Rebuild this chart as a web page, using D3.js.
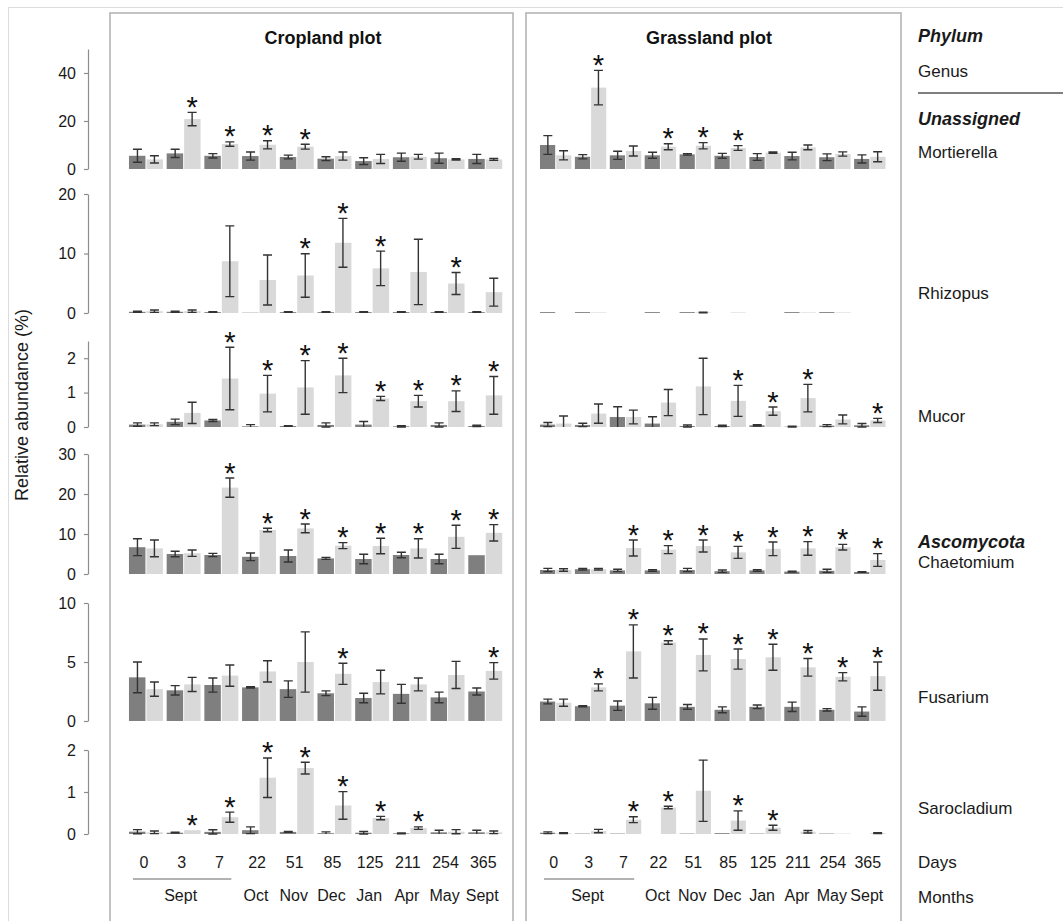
<!DOCTYPE html>
<html><head><meta charset="utf-8">
<script src="https://cdn.jsdelivr.net/npm/d3@7"></script>
<style>
html,body{margin:0;padding:0;background:#fff;}
svg{display:block;font-family:"Liberation Sans",Arial,sans-serif;}
</style></head>
<body>
<svg id="chart" width="1063" height="921"></svg>
<script>
// ---------- DATA ----------
const days = ["0","3","7","22","51","85","125","211","254","365"];
const months = ["Sept","Oct","Nov","Dec","Jan","Apr","May","Sept"];
const monthGroups = [[0,2],[3,3],[4,4],[5,5],[6,6],[7,7],[8,8],[9,9]];
const genera = ["Mortierella","Rhizopus","Mucor","Chaetomium","Fusarium","Sarocladium"];
const phyla = [["Unassigned",0],["Ascomycota",3]];
const yMax = [50,20,2.5,30,10,2];
const yTicks = [[0,20,40],[0,10,20],[0,1,2],[0,10,20,30],[0,5,10],[0,1,2]];

// Cropland plot: dark bars (control) and light bars (treated), with error bars
const cropDark = [
  [5.5,6.5,5.5,5.4,5.0,4.3,3.3,4.9,4.5,4.2],
  [0.2,0.2,0.15,0.05,0.15,0.15,0.15,0.15,0.15,0.15],
  [0.07,0.15,0.19,0.02,0.03,0.06,0.07,0.02,0.06,0.03],
  [6.7,5.0,4.75,4.3,4.5,3.9,3.75,4.75,3.75,4.7],
  [3.7,2.6,3.05,2.85,2.7,2.35,1.95,2.3,2.0,2.5],
  [0.055,0.03,0.05,0.09,0.05,0.02,0.03,0.015,0.04,0.04]
];
const cropDarkErr = [
  [2.7,1.7,0.9,1.7,0.8,0.8,1.4,1.7,2.1,1.9],
  [0.1,0.1,0.05,0,0.05,0.05,0.05,0.05,0.05,0.05],
  [0.05,0.08,0.03,0.05,0.01,0.06,0.09,0.02,0.06,0.02],
  [2.1,0.7,0.4,0.95,1.5,0.25,1.2,0.7,1.2,0],
  [1.3,0.4,0.6,0.05,0.7,0.2,0.4,0.8,0.45,0.3],
  [0.05,0.01,0.05,0.08,0.01,0.03,0.03,0.01,0.05,0.05]
];
const cropLight = [
  [4.0,20.8,10.4,10.1,9.3,5.4,4.2,5.1,4.0,4.0],
  [0.3,0.3,8.7,5.55,6.3,11.8,7.5,6.9,4.95,3.5],
  [0.08,0.41,1.41,0.97,1.15,1.5,0.83,0.75,0.75,0.92],
  [6.4,5.2,21.6,11.0,11.4,7.1,7.0,6.4,9.3,10.3],
  [2.7,3.1,3.85,4.2,5.0,4.0,3.3,3.1,3.9,4.25],
  [0.04,0.09,0.4,1.34,1.57,0.68,0.38,0.14,0.055,0.04]
];
const cropLightErr = [
  [1.5,2.8,0.9,1.7,1.0,1.7,1.9,1.0,0.3,0.4],
  [0.2,0.2,5.95,4.2,3.65,4.1,2.9,5.5,1.85,2.35],
  [0.04,0.31,0.91,0.53,0.78,0.5,0.06,0.17,0.3,0.55],
  [2.1,0.8,2.4,0.45,1.1,0.75,1.95,2.4,2.9,2.05],
  [0.6,0.6,0.9,0.9,2.55,0.9,1.0,0.55,1.15,0.7],
  [0.03,0,0.12,0.47,0.14,0.33,0.04,0.03,0.05,0.03]
];
const cropStars = [
  [0,1,1,1,1,0,0,0,0,0],
  [0,0,0,0,1,1,1,0,1,0],
  [0,0,1,1,1,1,1,1,1,1],
  [0,0,1,1,1,1,1,1,1,1],
  [0,0,0,0,0,1,0,0,0,1],
  [0,1,1,1,1,1,1,1,0,0]
];

// Grassland plot
const grassDark = [
  [10.0,5.1,5.7,5.7,6.1,5.5,5.0,5.4,4.9,4.2],
  [0.15,0.15,0,0.15,0.15,0,0,0.15,0.15,0],
  [0.07,0.06,0.29,0.1,0.03,0.03,0.05,0.01,0.04,0.05],
  [1.0,1.2,0.9,0.9,1.0,0.7,0.9,0.6,0.8,0.5],
  [1.65,1.25,1.3,1.5,1.2,0.95,1.2,1.2,0.95,0.8],
  [0.03,0.01,0.01,0,0.01,0.02,0.01,0,0.01,0]
];
const grassDarkErr = [
  [3.9,0.9,1.7,1.25,0.3,1.0,1.4,1.6,1.4,1.7],
  [0,0,0,0,0,0,0,0,0,0],
  [0.06,0.05,0.3,0.2,0.03,0.02,0.02,0.01,0.03,0.05],
  [0.4,0.2,0.3,0.2,0.4,0.3,0.2,0.1,0.4,0.1],
  [0.2,0.05,0.4,0.5,0.2,0.25,0.15,0.4,0.1,0.4],
  [0.02,0,0,0,0,0,0,0,0,0]
];
const grassLight = [
  [5.7,33.9,7.5,9.3,9.7,8.75,6.8,9.0,6.25,5.1],
  [0,0.1,0,0,0.1,0.1,0,0.1,0.1,0],
  [0.1,0.39,0.29,0.71,1.18,0.76,0.46,0.84,0.22,0.19],
  [1.0,1.2,6.5,6.1,7.0,5.4,6.3,6.4,6.7,3.5],
  [1.55,2.85,5.9,6.65,5.6,5.25,5.4,4.55,3.75,3.8],
  [0.02,0.07,0.34,0.63,1.03,0.32,0.15,0.055,0.01,0.02]
];
const grassLightErr = [
  [1.9,7.2,2.1,1.25,1.3,1.0,0.3,1.0,0.9,2.1],
  [0,0,0,0,0.05,0,0,0,0,0],
  [0.22,0.28,0.2,0.38,0.82,0.45,0.12,0.4,0.13,0.06],
  [0.3,0.2,2.0,1.0,1.5,1.5,1.7,1.7,0.7,1.6],
  [0.3,0.3,2.25,0.15,1.35,0.85,1.1,0.75,0.35,1.2],
  [0.01,0.04,0.07,0.03,0.73,0.23,0.06,0.03,0,0.01]
];
const grassStars = [
  [0,1,0,1,1,1,0,0,0,0],
  [0,0,0,0,0,0,0,0,0,0],
  [0,0,0,0,0,1,1,1,0,1],
  [0,0,1,1,1,1,1,1,1,1],
  [0,1,1,1,1,1,1,1,1,1],
  [0,0,1,1,0,1,1,0,0,0]
];

// ---------- LAYOUT ----------
const svg = d3.select("#chart");
const FONT = "'Liberation Sans',Arial,sans-serif";
const rowBase = [169, 313, 427, 574, 721, 834];
const rowTop  = [49, 194, 341, 454, 603, 750];
const yScales = yMax.map((m,r) => d3.scaleLinear().domain([0,m]).range([rowBase[r], rowTop[r]]));

const panels = [
  {title:"Cropland plot", box:[110,513], range:[125.2,506], titleX:323,
   dark:cropDark, darkErr:cropDarkErr, light:cropLight, lightErr:cropLightErr, stars:cropStars},
  {title:"Grassland plot", box:[526,901], range:[536.5,889], titleX:709,
   dark:grassDark, darkErr:grassDarkErr, light:grassLight, lightErr:grassLightErr, stars:grassStars}
];

// outer frame
svg.append("rect").attr("x",8.5).attr("y",7.5).attr("width",1100).attr("height",1000)
  .attr("fill","none").attr("stroke","#dcdcdc").attr("stroke-width",1);

// left y axes
yScales.forEach((y,r) => {
  const g = svg.append("g").attr("transform","translate(88,0)")
    .call(d3.axisLeft(y).tickValues(yTicks[r]).tickSize(4).tickSizeOuter(0).tickPadding(8).tickFormat(d3.format("d")));
  g.select(".domain").attr("stroke","#8c8c8c").attr("stroke-width",1.2);
  g.selectAll(".tick line").attr("stroke","#8c8c8c").attr("stroke-width",1.2);
  g.selectAll(".tick text").attr("fill","#1a1a1a").attr("font-size",16).attr("font-family",FONT);
});

svg.append("text").attr("transform","translate(28,405) rotate(-90)")
  .attr("text-anchor","middle").attr("font-size",18).attr("fill","#1a1a1a")
  .text("Relative abundance (%)");

const series = ["dark","light"];
const fills = {dark:"#7f7f7f", light:"#d9d9d9"};

panels.forEach(p => {
  svg.append("rect").attr("x",p.box[0]).attr("y",13).attr("width",p.box[1]-p.box[0]).attr("height",1000)
    .attr("fill","none").attr("stroke","#b4b4b4").attr("stroke-width",1.6);
  svg.append("text").attr("x",p.titleX).attr("y",44).attr("text-anchor","middle")
    .attr("font-size",18).attr("font-weight","bold").attr("fill","#111").text(p.title);

  const x = d3.scaleBand().domain(days).range(p.range).paddingInner(0.1).paddingOuter(0.1);
  const xi = d3.scaleBand().domain(series).range([0, x.bandwidth()]);
  const bw = xi.bandwidth();

  genera.forEach((gname, r) => {
    const y = yScales[r];
    const g = svg.append("g");
    const recs = [];
    days.forEach((d,i) => {
      recs.push({s:"dark", i, v:p.dark[r][i], e:p.darkErr[r][i], star:0});
      recs.push({s:"light", i, v:p.light[r][i], e:p.lightErr[r][i], star:p.stars[r][i]});
    });
    g.selectAll("rect").data(recs).join("rect")
      .attr("x", d => x(days[d.i]) + xi(d.s) + (d.s==="dark"?0:0.5))
      .attr("width", bw - 0.5)
      .attr("y", d => y(d.v))
      .attr("height", d => y(0) - y(d.v))
      .attr("fill", d => fills[d.s]);
    // error bars
    recs.filter(d => d.e > 0).forEach(d => {
      const cx = x(days[d.i]) + xi(d.s) + bw/2;
      const lo = Math.max(0, d.v - d.e), hi = d.v + d.e;
      const cw = 4.5;
      let path = `M${cx},${y(lo)}V${y(hi)}M${cx-cw},${y(hi)}H${cx+cw}`;
      if (d.v - d.e >= 0) path += `M${cx-cw},${y(lo)}H${cx+cw}`;
      g.append("path").attr("d",path).attr("fill","none").attr("stroke","#333").attr("stroke-width",1.4);
    });
    // significance stars
    recs.filter(d => d.star).forEach(d => {
      const cx = x(days[d.i]) + xi(d.s) + bw/2;
      g.append("text").attr("x",cx).attr("y", y(d.v + d.e) + 4.5)
        .attr("text-anchor","middle").attr("font-size",29).attr("fill","#111").text("*");
    });
  });

  // day labels
  days.forEach((d,i) => {
    svg.append("text").attr("x", x(d) + x.bandwidth()/2 - 2).attr("y", 868)
      .attr("text-anchor","middle").attr("font-size",16).attr("fill","#1a1a1a").text(d);
  });
  // month labels
  months.forEach((m,k) => {
    const [a,b] = monthGroups[k];
    const cx = (x(days[a]) + x(days[b]) + x.bandwidth())/2 - 3;
    svg.append("text").attr("x", cx).attr("y", 901)
      .attr("text-anchor","middle").attr("font-size",16).attr("fill","#1a1a1a").text(m);
    if (b > a) {
      svg.append("line").attr("x1", x(days[a]) + 4).attr("x2", x(days[b]) + x.bandwidth() - 7)
        .attr("y1",879).attr("y2",879).attr("stroke","#999").attr("stroke-width",1.5);
    }
  });
});

// right-side labels
const rx = 918;
const rt = (txt, y, bold, italic, size) => svg.append("text").attr("x",rx).attr("y",y)
  .attr("font-size",size||17).attr("font-weight",bold?"bold":"normal")
  .attr("font-style",italic?"italic":"normal").attr("fill","#1a1a1a").text(txt);
rt("Phylum", 42, true, true, 18);
rt("Genus", 77);
svg.append("line").attr("x1",rx).attr("x2",1063).attr("y1",93).attr("y2",93).attr("stroke","#555").attr("stroke-width",1.3);
const genusY = [158, 299, 422, 568, 703, 814];
rt(phyla[0][0], 125, true, true, 18);
rt(phyla[1][0], 548, true, true, 18);
genera.forEach((gname,r) => rt(gname, genusY[r]));
rt("Days", 868);
rt("Months", 903);
</script>
</body></html>
